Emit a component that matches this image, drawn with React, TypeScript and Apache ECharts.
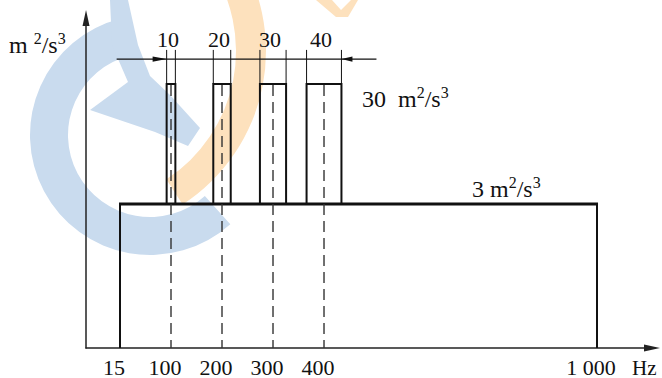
import React, { useEffect, useRef } from 'react';
import * as echarts from 'echarts';

// ---- data ----
const freqTicks = [15, 100, 200, 300, 400, 1000]; // Hz
const tickLabels = ['15', '100', '200', '300', '400', '1 000'];
// the drawing is schematic (not to scale): axis position of each tick frequency
const tickPositions = [0, 1, 2, 3, 4, 9.353];
const bandCenters = [100, 200, 300, 400]; // Hz
const bandWidths = [10, 20, 30, 40]; // Hz
const bandLabels = ['10', '20', '30', '40'];
const plateauRange = [15, 1000]; // Hz
const plateauLevel = 3; // m²/s³
const peakLevel = 30; // m²/s³
const psdLevels = [0, 3, 30];
// schematic axis position of each PSD level
const psdPositions = [0, 3, 5.5];
const BW_SCALE = 0.0171; // axis units per Hz of band width (schematic)

// ---- layout / style ----
const X_MIN = -0.6667;
const X_MAX = 10.431;
const Y_MAX = 6.875;
const EXT_POS = 6.21; // top of extension lines
const DIM_POS = 6.02; // dimension line level
const INK = '#111';
const FONT = 'Liberation Serif';
const BLUE_WM = '#c9dbee';
const ORANGE_WM = '#fde1bd';

function interp(v: number, xs: number[], ys: number[]) {
  for (let i = 0; i < xs.length - 1; i++) {
    if (v <= xs[i + 1] || i === xs.length - 2) {
      const t = (v - xs[i]) / (xs[i + 1] - xs[i]);
      return ys[i] + t * (ys[i + 1] - ys[i]);
    }
  }
  return ys[0];
}
const fPos = (f: number) => interp(f, freqTicks, tickPositions);
const lPos = (l: number) => interp(l, psdLevels, psdPositions);

const unitRich = {
  n: { fontSize: 24, fontFamily: FONT, lineHeight: 30, fill: INK },
  s: { fontSize: 16, fontFamily: FONT, lineHeight: 12, verticalAlign: 'top', fill: INK },
};

export default function App() {
  const ref = useRef<HTMLDivElement>(null);
  useEffect(() => {
    const chart = echarts.init(ref.current!, null, { renderer: 'svg' });
    const D2R = Math.PI / 180;

    const bandData = bandCenters.map((c, i) => [
      fPos(c),
      (bandWidths[i] * BW_SCALE) / 2,
      lPos(peakLevel),
      lPos(plateauLevel),
    ]);
    const firstLeft = fPos(bandCenters[0]) - (bandWidths[0] * BW_SCALE) / 2;
    const last = bandCenters.length - 1;
    const lastRight = fPos(bandCenters[last]) + (bandWidths[last] * BW_SCALE) / 2;

    const option: any = {
      animation: false,
      textStyle: { fontFamily: FONT },
      grid: { left: 86, right: 10, top: 18, bottom: 30, containLabel: false },
      xAxis: {
        type: 'value',
        min: X_MIN,
        max: X_MAX,
        axisLine: {
          show: true,
          onZero: false,
          symbol: ['none', 'triangle'],
          symbolSize: [7, 16],
          lineStyle: { color: '#222', width: 1.5 },
        },
        axisTick: { show: false },
        splitLine: { show: false },
        axisLabel: {
          show: true,
          customValues: tickPositions,
          formatter: (v: number) => {
            let best = 0;
            tickPositions.forEach((p, i) => {
              if (Math.abs(p - v) < Math.abs(tickPositions[best] - v)) best = i;
            });
            return tickLabels[best];
          },
          margin: 8,
          padding: [0, 12, 0, 0],
          fontSize: 22,
          fontFamily: FONT,
          color: INK,
        },
      },
      yAxis: {
        type: 'value',
        min: 0,
        max: Y_MAX,
        axisLine: {
          show: true,
          onZero: false,
          symbol: ['none', 'triangle'],
          symbolSize: [7, 16],
          lineStyle: { color: '#222', width: 1.5 },
        },
        axisTick: { show: false },
        splitLine: { show: false },
        axisLabel: { show: false },
      },
      graphic: [
        // faint watermark
        {
          type: 'sector',
          z: -10,
          shape: { cx: 150, cy: 135, r0: 82, r: 120, startAngle: 48 * D2R, endAngle: 256 * D2R, clockwise: true },
          style: { fill: BLUE_WM },
        },
        {
          type: 'polygon',
          z: -10,
          shape: {
            points: [
              [110, 0], [128, 0], [138, 45], [150, 76], [170, 95], [200, 128], [188, 146],
              [155, 132], [90, 110], [128, 82], [112, 45],
            ],
          },
          style: { fill: BLUE_WM },
        },
        {
          type: 'sector',
          z: -9,
          shape: { cx: 83, cy: 51, r0: 153, r: 183, startAngle: -35 * D2R, endAngle: 57 * D2R, clockwise: true },
          style: { fill: ORANGE_WM },
        },
        {
          type: 'polygon',
          z: -9,
          shape: { points: [[316, 0], [332, 0], [341, 10], [351, 0], [358, 0], [348, 17], [336, 17]] },
          style: { fill: ORANGE_WM },
        },
        // texts
        {
          type: 'text',
          x: 9,
          y: 30,
          style: { text: '{n|m }{s|2}{n|/s}{s|3}', verticalAlign: 'top', align: 'left', fill: INK, rich: unitRich },
        },
        {
          type: 'text',
          x: 362,
          y: 84,
          style: { text: '{n|30  m}{s|2}{n|/s}{s|3}', verticalAlign: 'top', align: 'left', fill: INK, rich: unitRich },
        },
        {
          type: 'text',
          x: 472,
          y: 174,
          style: { text: '{n|3 m}{s|2}{n|/s}{s|3}', verticalAlign: 'top', align: 'left', fill: INK, rich: unitRich },
        },
        {
          type: 'text',
          x: 632,
          y: 368,
          style: { text: 'Hz', fontSize: 21, fontFamily: FONT, verticalAlign: 'middle', align: 'left', fill: INK },
        },
      ],
      series: [
        {
          type: 'custom',
          name: 'plateau',
          z: 3,
          data: [[fPos(plateauRange[0]), fPos(plateauRange[1]), lPos(plateauLevel)]],
          renderItem: (params: any, api: any) => {
            const x0 = api.value(0), x1 = api.value(1), y = api.value(2);
            const a = api.coord([x0, 0]);
            const b = api.coord([x0, y]);
            const c = api.coord([x1, y]);
            const d = api.coord([x1, 0]);
            return {
              type: 'group',
              children: [
                { type: 'line', shape: { x1: a[0], y1: a[1], x2: b[0], y2: b[1] }, style: { stroke: INK, lineWidth: 2 } },
                { type: 'line', shape: { x1: d[0], y1: d[1], x2: c[0], y2: c[1] }, style: { stroke: INK, lineWidth: 2 } },
                { type: 'line', shape: { x1: b[0] - 1, y1: b[1], x2: c[0] + 1, y2: c[1] }, style: { stroke: INK, lineWidth: 3 } },
              ],
            };
          },
        },
        {
          type: 'custom',
          name: 'bands',
          z: 4,
          data: bandData,
          renderItem: (params: any, api: any) => {
            const cx = api.value(0), hw = api.value(1), top = api.value(2), base = api.value(3);
            const tl = api.coord([cx - hw, top]);
            const br = api.coord([cx + hw, base]);
            const ct = api.coord([cx, top]);
            const c0 = api.coord([cx, 0]);
            const extY = api.coord([cx, EXT_POS])[1];
            return {
              type: 'group',
              children: [
                {
                  type: 'rect',
                  shape: { x: tl[0], y: tl[1], width: br[0] - tl[0], height: br[1] - tl[1] },
                  style: { fill: 'none', stroke: INK, lineWidth: 2 },
                },
                {
                  type: 'line',
                  shape: { x1: ct[0], y1: ct[1] + 1, x2: c0[0], y2: c0[1] },
                  style: { stroke: '#333', lineWidth: 1.4, lineDash: [11, 6] },
                },
                { type: 'line', shape: { x1: tl[0], y1: tl[1], x2: tl[0], y2: extY }, style: { stroke: INK, lineWidth: 1 } },
                { type: 'line', shape: { x1: br[0], y1: tl[1], x2: br[0], y2: extY }, style: { stroke: INK, lineWidth: 1 } },
                {
                  type: 'text',
                  x: ct[0] - 3,
                  y: extY - 10,
                  style: {
                    text: bandLabels[params.dataIndex],
                    fontSize: 22,
                    fontFamily: FONT,
                    fill: INK,
                    align: 'center',
                    verticalAlign: 'middle',
                  },
                },
              ],
            };
          },
        },
        {
          type: 'custom',
          name: 'dimension',
          z: 5,
          data: [[firstLeft, lastRight, DIM_POS]],
          renderItem: (params: any, api: any) => {
            const l = api.coord([api.value(0), api.value(2)]);
            const r = api.coord([api.value(1), api.value(2)]);
            const y = l[1];
            return {
              type: 'group',
              children: [
                { type: 'line', shape: { x1: l[0] - 50, y1: y, x2: r[0] + 35, y2: y }, style: { stroke: INK, lineWidth: 1.2 } },
                {
                  type: 'polygon',
                  shape: { points: [[l[0], y], [l[0] - 14, y - 2.6], [l[0] - 14, y + 2.6]] },
                  style: { fill: INK },
                },
                {
                  type: 'polygon',
                  shape: { points: [[r[0], y], [r[0] + 11, y - 2.6], [r[0] + 11, y + 2.6]] },
                  style: { fill: INK },
                },
              ],
            };
          },
        },
      ],
    };
    chart.setOption(option);
    return () => chart.dispose();
  }, []);
  return <div ref={ref} style={{ width: 662, height: 378, position: 'absolute', left: 0, top: 0 }} />;
}
